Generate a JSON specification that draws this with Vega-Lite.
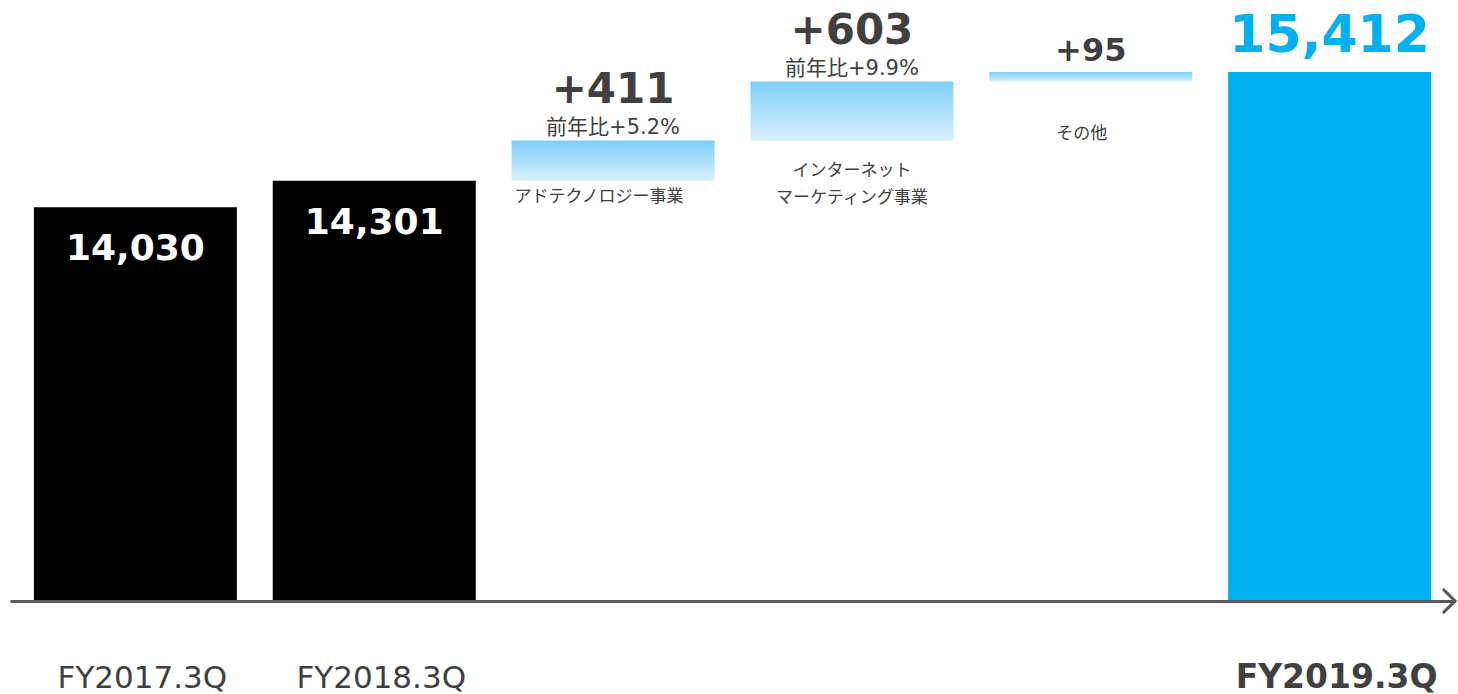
{
  "$schema": "https://vega.github.io/schema/vega-lite/v6.json",
  "autosize": {"type": "none"},
  "padding": {"left": 10, "top": 0, "right": 3, "bottom": 93},
  "width": 1445,
  "height": 601,
  "config": {"view": {"stroke": null}, "font": "DejaVu Sans"},
  "data": {"values": [
    {"cat": "FY2017.3Q", "kind": "prev", "end": 14030, "label": "14,030"},
    {"cat": "FY2018.3Q", "kind": "prev", "end": 14301, "label": "14,301"},
    {"cat": "アドテクノロジー事業", "kind": "delta", "start": 14301, "end": 14712, "label": "+411", "yoy": "前年比+5.2%", "name": ["アドテクノロジー事業"]},
    {"cat": "インターネットマーケティング事業", "kind": "delta", "start": 14712, "end": 15315, "label": "+603", "yoy": "前年比+9.9%", "name": ["インターネット", "マーケティング事業"]},
    {"cat": "その他", "kind": "delta", "start": 15315, "end": 15412, "label": "+95", "name": ["その他"]},
    {"cat": "FY2019.3Q", "kind": "total", "end": 15412, "label": "15,412"}
  ]},
  "encoding": {
    "x": {
      "field": "cat", "type": "nominal",
      "sort": ["FY2017.3Q", "FY2018.3Q", "アドテクノロジー事業", "インターネットマーケティング事業", "その他", "FY2019.3Q"],
      "scale": {"paddingInner": 0.15, "paddingOuter": 0.1},
      "axis": {
        "title": null, "ticks": false, "labelAngle": 0,
        "labelExpr": "indexof(datum.value, 'FY') == 0 ? datum.value : ''",
        "labelFont": "DejaVu Sans", "labelColor": "#404040",
        "labelFontSize": {"condition": {"test": "datum.value == 'FY2019.3Q'", "value": 33}, "value": 31},
        "labelFontWeight": {"condition": {"test": "datum.value == 'FY2019.3Q'", "value": "bold"}, "value": "normal"},
        "labelBaseline": "alphabetic", "labelPadding": 86, "labelOffset": 7, "labelLimit": 0,
        "labelOverlap": false, "labelBound": false,
        "domainColor": "#595959", "domainWidth": 3, "zindex": 2
      }
    }
  },
  "layer": [
    {
      "transform": [{"filter": "datum.kind != 'delta'"}],
      "mark": {"type": "bar"},
      "encoding": {
        "y": {"field": "end", "type": "quantitative", "scale": {"domain": [10000, 16150], "zero": false, "nice": false}, "axis": null},
        "y2": {"datum": 10000},
        "color": {"field": "kind", "type": "nominal", "scale": {"domain": ["prev", "total"], "range": ["#000000", "#00B0F0"]}, "legend": null}
      }
    },
    {
      "transform": [{"filter": "datum.kind == 'delta'"}],
      "mark": {"type": "bar", "fill": {"gradient": "linear", "x1": 0, "y1": 0, "x2": 0, "y2": 1, "stops": [{"offset": 0, "color": "#7DCFF9"}, {"offset": 1, "color": "#DAF0FD"}]}},
      "encoding": {"y": {"field": "end", "type": "quantitative"}, "y2": {"field": "start"}}
    },
    {
      "transform": [{"filter": "datum.kind == 'prev'"}],
      "mark": {"type": "text", "color": "#FFFFFF", "fontWeight": "bold", "fontSize": 36, "baseline": "top", "dy": 25},
      "encoding": {"y": {"field": "end", "type": "quantitative"}, "text": {"field": "label"}}
    },
    {
      "transform": [{"filter": "datum.kind == 'total'"}],
      "mark": {"type": "text", "color": "#00B0F0", "fontWeight": "bold", "fontSize": 52, "baseline": "alphabetic", "dy": -20},
      "encoding": {"y": {"field": "end", "type": "quantitative"}, "text": {"field": "label"}}
    },
    {
      "transform": [{"filter": "datum.kind == 'delta' && datum.yoy"}],
      "mark": {"type": "text", "color": "#404040", "fontWeight": "bold", "fontSize": 42, "baseline": "alphabetic", "dy": -38},
      "encoding": {"y": {"field": "end", "type": "quantitative"}, "text": {"field": "label"}}
    },
    {
      "transform": [{"filter": "datum.kind == 'delta' && !datum.yoy"}],
      "mark": {"type": "text", "color": "#404040", "fontWeight": "bold", "fontSize": 32, "baseline": "alphabetic", "dy": -11},
      "encoding": {"y": {"field": "end", "type": "quantitative"}, "text": {"field": "label"}}
    },
    {
      "transform": [{"filter": "datum.kind == 'delta' && datum.yoy"}],
      "mark": {"type": "text", "color": "#404040", "font": "DejaVu Sans, Noto Sans CJK JP", "fontSize": 21, "baseline": "alphabetic", "dy": -7},
      "encoding": {"y": {"field": "end", "type": "quantitative"}, "text": {"field": "yoy"}}
    },
    {
      "transform": [{"filter": "datum.cat == 'アドテクノロジー事業'"}],
      "mark": {"type": "text", "color": "#404040", "font": "Noto Sans CJK JP", "fontSize": 17, "baseline": "top", "dy": 8, "dx": -14, "lineHeight": 27},
      "encoding": {"y": {"field": "start", "type": "quantitative"}, "text": {"field": "name"}}
    },
    {
      "transform": [{"filter": "datum.cat == 'インターネットマーケティング事業'"}],
      "mark": {"type": "text", "color": "#404040", "font": "Noto Sans CJK JP", "fontSize": 17, "baseline": "top", "dy": 22, "lineHeight": 27},
      "encoding": {"y": {"field": "start", "type": "quantitative"}, "text": {"field": "name"}}
    },
    {
      "transform": [{"filter": "datum.cat == 'その他'"}],
      "mark": {"type": "text", "color": "#404040", "font": "Noto Sans CJK JP", "fontSize": 17, "baseline": "top", "dy": 44, "dx": -9, "lineHeight": 27},
      "encoding": {"y": {"field": "start", "type": "quantitative"}, "text": {"field": "name"}}
    },
    {
      "transform": [{"filter": "datum.kind == 'total'"}],
      "mark": {"type": "point", "shape": "M-1,-1L0,0L-1,1", "filled": false, "stroke": "#595959", "strokeWidth": 3, "size": 500, "opacity": 1, "strokeCap": "round"},
      "encoding": {"x": {"value": "width"}, "y": {"datum": 10000, "type": "quantitative"}}
    }
  ]
}
